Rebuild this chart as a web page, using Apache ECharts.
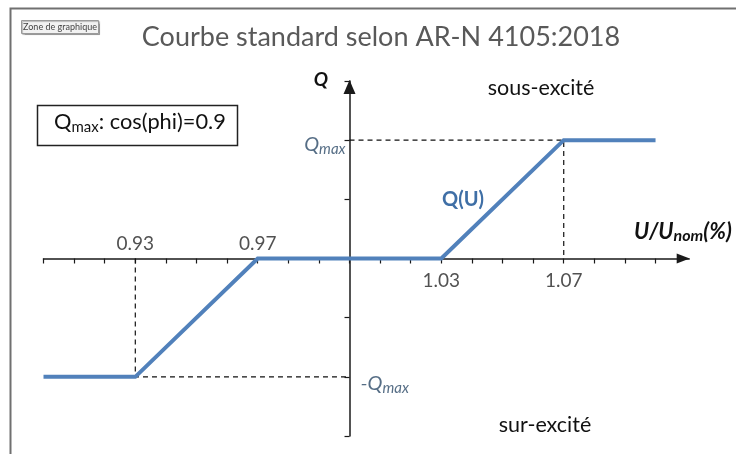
<!DOCTYPE html>
<html>
<head>
<meta charset="utf-8">
<script src="https://cdn.jsdelivr.net/npm/echarts@6/dist/echarts.min.js"></script>
<style>
  html, body { margin: 0; padding: 0; background: #ffffff; }
  #chart { width: 736px; height: 454px; }
</style>
</head>
<body>
<div id="chart"></div>
<script>
// Q(U) characteristic: breakpoints in U/Unom and reactive power (Qmax = 2 units)
const voltage = [0.90, 0.93, 0.97, 1.03, 1.07, 1.10];
const reactive = [-2, -2, 0, 0, 2, 2];
const qMax = 2;

// dashed guide lines to the axes
const guideLow = [[0.93, 0], [0.93, -qMax], [1.00, -qMax]];
const guideHigh = [[1.00, qMax], [1.07, qMax], [1.07, 0]];

// axis ticks and labelled values
const xTickValues = [0.90, 0.91, 0.92, 0.93, 0.94, 0.95, 0.96, 0.97, 0.98, 0.99, 1.00,
                     1.01, 1.02, 1.03, 1.04, 1.05, 1.06, 1.07, 1.08, 1.09, 1.10];
const xLabelsAbove = [0.93, 0.97];
const xLabelsBelow = [1.03, 1.07];
const xRange = [0.90, 1.111];
const yRange = [-3, 3];
const yAxisAt = 1.00;

const FONT = 'Lato, "Open Sans", sans-serif';
const gridLeft = 43.5, gridWidth = 645.7, gridTop = 81, gridHeight = 355;
const yAxisOffset = -(yAxisAt - xRange[0]) / (xRange[1] - xRange[0]) * gridWidth;

const chart = echarts.init(document.getElementById('chart'), null, { renderer: 'canvas' });

const pair = (xs, ys) => xs.map((x, i) => [x, ys[i]]);

const tickLabel = (values, position, distance) => ({
  type: 'scatter',
  data: values.map(v => [v, 0]),
  symbolSize: 0,
  silent: true,
  label: {
    show: true,
    position: position,
    distance: distance,
    fontFamily: FONT,
    fontSize: 19,
    color: '#262626',
    formatter: p => p.value[0].toFixed(2)
  }
});

chart.setOption({
  animation: false,
  backgroundColor: '#ffffff',
  grid: { left: gridLeft, width: gridWidth, top: gridTop, height: gridHeight, containLabel: false, outerBoundsMode: 'none' },
  xAxis: {
    type: 'value',
    min: xRange[0],
    max: xRange[1],
    splitLine: { show: false },
    axisLine: {
      onZero: true,
      symbol: ['none', 'triangle'],
      symbolSize: [10, 13],
      symbolOffset: [0, -6],
      lineStyle: { color: '#1a1a1a', width: 1.5 }
    },
    axisTick: { customValues: xTickValues, length: 5, lineStyle: { color: '#1a1a1a', width: 1.2 } },
    axisLabel: { show: false }
  },
  yAxis: {
    type: 'value',
    min: yRange[0],
    max: yRange[1],
    interval: 1,
    offset: yAxisOffset,
    splitLine: { show: false },
    axisLine: {
      onZero: false,
      symbol: ['none', 'triangle'],
      symbolSize: [12, 14],
      symbolOffset: [0, -6],
      lineStyle: { color: '#1a1a1a', width: 1.5 }
    },
    axisTick: { length: 5, lineStyle: { color: '#1a1a1a', width: 1.2 } },
    axisLabel: { show: false }
  },
  series: [
    {
      type: 'line',
      data: guideLow,
      showSymbol: false,
      silent: true,
      lineStyle: { color: '#111111', width: 1.2, type: [5, 4] },
      z: 1
    },
    {
      type: 'line',
      data: guideHigh,
      showSymbol: false,
      silent: true,
      lineStyle: { color: '#111111', width: 1.2, type: [5, 4] },
      z: 1
    },
    {
      name: 'Q(U)',
      type: 'line',
      data: pair(voltage, reactive),
      showSymbol: false,
      lineStyle: { color: '#5181bb', width: 4, join: 'miter' },
      z: 3
    },
    tickLabel(xLabelsAbove, 'top', 5),
    tickLabel(xLabelsBelow, 'bottom', 13),
    {
      // +Qmax / -Qmax labels on the Q axis
      type: 'scatter',
      data: [
        { value: [yAxisAt, qMax], label: { position: 'left', distance: 4, offset: [0, 5], formatter: '{q|Q}{s|max}' } },
        { value: [yAxisAt, -qMax], label: { position: 'right', distance: 11, offset: [0, 8], formatter: '{q|-Q}{s|max}' } }
      ],
      symbolSize: 0,
      silent: true,
      label: {
        show: true,
        rich: {
          q: { fontFamily: FONT, fontStyle: 'italic', fontSize: 20, color: '#2a4866', lineHeight: 22, verticalAlign: 'top' },
          s: { fontFamily: FONT, fontStyle: 'italic', fontSize: 15, color: '#2a4866', lineHeight: 15, padding: [12, 0, 0, 0], verticalAlign: 'bottom' }
        }
      }
    }
  ],
  graphic: [
    {
      type: 'rect',
      shape: { x: 10.5, y: 8.5, width: 1000, height: 1000 },
      style: { fill: 'none', stroke: '#707070', lineWidth: 2 },
      silent: true,
      z: -10
    },
    {
      type: 'rect',
      shape: { x: 21.5, y: 20.5, width: 77, height: 13 },
      style: { fill: '#f2f2f2', stroke: '#9a9a9a', lineWidth: 1, shadowColor: 'rgba(0,0,0,0.25)', shadowOffsetX: 1, shadowOffsetY: 1, shadowBlur: 1 },
      silent: true
    },
    {
      type: 'text',
      x: 60, y: 27,
      style: { text: 'Zone de graphique', fontFamily: FONT, fontSize: 9, fill: '#444444', align: 'center', verticalAlign: 'middle' },
      silent: true
    },
    {
      type: 'text',
      x: 381, y: 37,
      style: { text: 'Courbe standard selon AR-N 4105:2018', fontFamily: FONT, fontSize: 27, fill: '#595959', align: 'center', verticalAlign: 'middle' },
      silent: true
    },
    {
      type: 'rect',
      shape: { x: 37.5, y: 105.5, width: 200, height: 40 },
      style: { fill: '#ffffff', stroke: '#222222', lineWidth: 1.5 },
      silent: true
    },
    {
      type: 'text',
      x: 54, y: 111,
      style: {
        text: '{q|Q}{s|max}{q|: cos(phi)=0.9}',
        rich: {
          q: { fontFamily: FONT, fontSize: 21.8, fill: '#111111', lineHeight: 24, verticalAlign: 'top' },
          s: { fontFamily: FONT, fontSize: 15, fill: '#111111', lineHeight: 15, padding: [13, 0, 0, 0], verticalAlign: 'bottom' }
        }
      },
      silent: true
    },
    {
      type: 'text',
      x: 321, y: 80,
      style: { text: 'Q', fontFamily: FONT, fontSize: 19, fontWeight: 'bold', fontStyle: 'italic', fill: '#111111', align: 'center', verticalAlign: 'middle' },
      silent: true
    },
    {
      type: 'text',
      x: 541, y: 88,
      style: { text: 'sous-excité', fontFamily: FONT, fontSize: 21.5, fill: '#111111', align: 'center', verticalAlign: 'middle' },
      silent: true
    },
    {
      type: 'text',
      x: 545, y: 425,
      style: { text: 'sur-excité', fontFamily: FONT, fontSize: 21.5, fill: '#111111', align: 'center', verticalAlign: 'middle' },
      silent: true
    },
    {
      type: 'text',
      x: 463, y: 200,
      style: { text: 'Q(U)', fontFamily: FONT, fontSize: 20, fontWeight: 'bold', fill: '#3f6fa6', align: 'center', verticalAlign: 'middle' },
      silent: true
    },
    {
      type: 'text',
      x: 634, y: 221,
      style: {
        text: '{a|U/U}{s|nom}{a|(%)}',
        rich: {
          a: { fontFamily: FONT, fontSize: 22, fontWeight: 'bold', fontStyle: 'italic', fill: '#111111', lineHeight: 23, verticalAlign: 'top' },
          s: { fontFamily: FONT, fontSize: 16, fontWeight: 'bold', fontStyle: 'italic', fill: '#111111', lineHeight: 16, padding: [12, 0, 0, 0], verticalAlign: 'bottom' }
        }
      },
      silent: true
    }
  ]
});
</script>
</body>
</html>
